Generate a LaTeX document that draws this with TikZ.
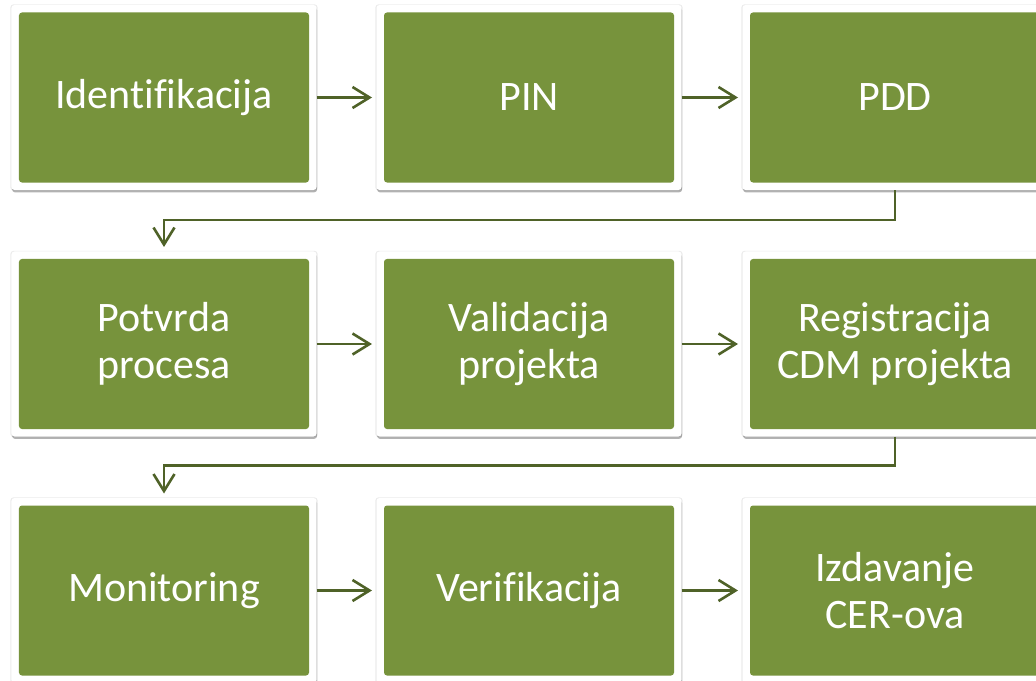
\documentclass[tikz,border=0pt]{standalone}
\usepackage{fontspec}
\setmainfont{Carlito}[Ligatures={TeX,NoCommon}]
\usetikzlibrary{arrows.meta,shadows}
\definecolor{boxgreen}{HTML}{77933C}
\definecolor{arrowgreen}{HTML}{4F6228}
\begin{document}
\begin{tikzpicture}[x=1bp,y=-1bp,
  stepbox/.style={rectangle, fill=white, draw=none, outer sep=0pt,
    rounded corners=3bp, minimum width=305bp, minimum height=185bp,
    inner sep=0pt, text=white, align=center,
    font=\fontsize{42bp}{47bp}\selectfont,
    drop shadow={shadow xshift=0bp, shadow yshift=0bp, shadow scale=1.007, opacity=0.08, fill=black},
    drop shadow={shadow xshift=0.6bp, shadow yshift=-2.4bp, opacity=0.3, fill=black},
    path picture={\fill[boxgreen]
      ([shift={(7.5bp,-7.5bp)}]path picture bounding box.north west) rectangle
      ([shift={(-7.5bp,7.5bp)}]path picture bounding box.south east);}},
  link/.style={draw=arrowgreen, line width=2.6bp,
    -{Straight Barb[length=17bp,width=21bp,line width=2.6bp]}, shorten >=4.5bp}]
\useasboundingbox (0,0) rectangle (1036,681);
\node[stepbox] (a) at (164,97.5) {Identifikacija};
\node[stepbox] (b) at (529,97.5) {PIN};
\node[stepbox] (c) at (895,97.5) {PDD};
\node[stepbox] (d) at (164,344) {Potvrda\\procesa};
\node[stepbox] (e) at (529,344) {Validacija\\projekta};
\node[stepbox] (f) at (895,344) {Registracija\\CDM projekta};
\node[stepbox] (g) at (164,590.5) {Monitoring};
\node[stepbox] (h) at (529,590.5) {Verifikacija};
\node[stepbox] (i) at (895,590.5) {Izdavanje\\CER-ova};
\draw[link] (a.east) -- (b.west);
\draw[link] (b.east) -- (c.west);
\draw[link] (d.east) -- (e.west);
\draw[link] (e.east) -- (f.west);
\draw[link] (g.east) -- (h.west);
\draw[link] (h.east) -- (i.west);
\draw[link] (c.south) -- ++(0,30) -| (d.north);
\draw[link] (f.south) -- ++(0,29) -| (g.north);
\end{tikzpicture}
\end{document}
